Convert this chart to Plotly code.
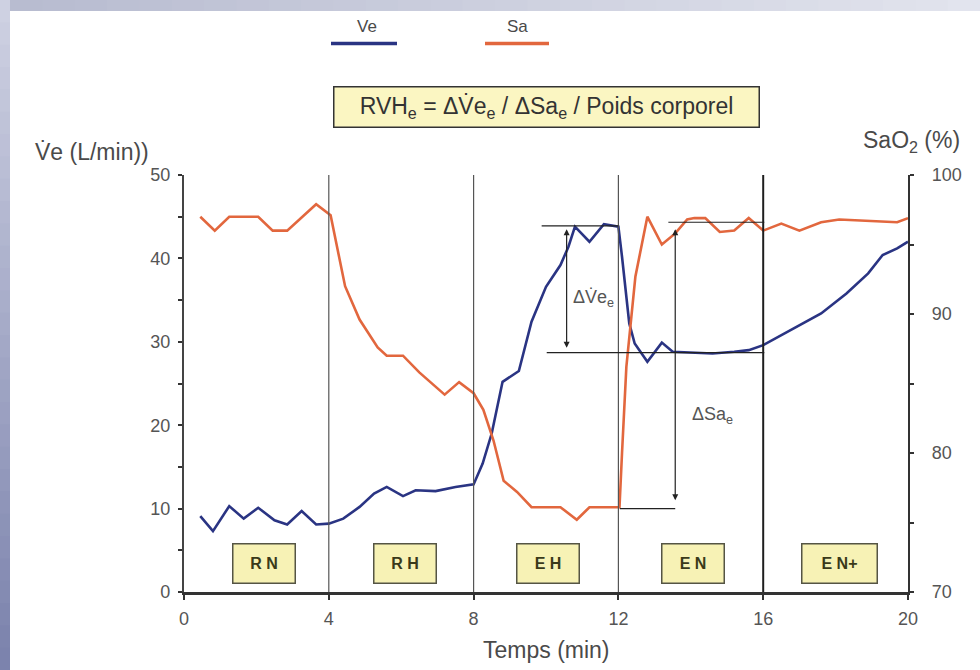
import plotly.graph_objects as go

# ---------------- data ----------------
ve_time = [0.45, 0.8, 1.25, 1.65, 2.05, 2.5, 2.85, 3.25, 3.65, 4.0, 4.4, 4.85, 5.25, 5.6,
           6.05, 6.4, 6.95, 7.5, 8.0, 8.25, 8.5, 8.8, 9.25, 9.6, 10.0, 10.4, 10.62, 10.8,
           11.2, 11.6, 12.0, 12.1, 12.3, 12.45, 12.8, 13.2, 13.5, 14.1, 14.6, 15.2, 15.6,
           16.0, 16.6, 17.6, 18.3, 18.9, 19.3, 19.7, 20.0]
ve_values = [9.1, 7.3, 10.3, 8.8, 10.1, 8.6, 8.1, 9.7, 8.1, 8.2, 8.8, 10.2, 11.8, 12.6,
             11.5, 12.2, 12.1, 12.6, 12.9, 15.4, 19.0, 25.2, 26.5, 32.4, 36.6, 39.2, 41.4, 43.8,
             42.0, 44.1, 43.8, 40.2, 32.2, 29.8, 27.6, 29.9, 28.8, 28.7, 28.6, 28.8, 29.0,
             29.6, 31.0, 33.4, 35.8, 38.2, 40.4, 41.2, 42.0]

sa_time = [0.45, 0.85, 1.25, 2.05, 2.45, 2.85, 3.65, 4.05, 4.45, 4.85, 5.35, 5.6, 6.05,
           6.5, 7.2, 7.6, 8.0, 8.27, 8.55, 8.83, 9.2, 9.6, 10.4, 10.85, 11.2, 12.03, 12.1,
           12.22, 12.47, 12.8, 13.2, 13.57, 13.9, 14.1, 14.4, 14.8, 15.2, 15.6, 16.0, 16.5,
           17.0, 17.6, 18.1, 19.0, 19.7, 20.0]
sa_values = [97.0, 96.0, 97.0, 97.0, 96.0, 96.0, 97.9, 97.1, 92.0, 89.6, 87.6, 87.0, 87.0,
             85.8, 84.2, 85.1, 84.3, 83.1, 80.9, 78.0, 77.2, 76.1, 76.1, 75.2, 76.1, 76.1, 80.0,
             86.2, 92.7, 97.0, 95.0, 95.8, 96.8, 96.9, 96.9, 95.9, 96.0, 96.9, 96.0, 96.5,
             96.0, 96.6, 96.8, 96.7, 96.6, 96.9]

phase_bounds = [4, 8, 12, 16]
phase_labels = ["R N", "R H", "E H", "E N", "E N+"]
phase_label_x = [2.2, 6.1, 10.05, 14.05, 18.1]

x_ticks = [0, 4, 8, 12, 16, 20]
ve_ticks = [0, 10, 20, 30, 40, 50]
sa_ticks = [70, 80, 90, 100]

# delta annotation levels
ve_high, ve_low = 43.9, 28.7
ve_arrow_t = 10.57
ve_high_span = [9.88, 12.0]
ve_low_span = [10.02, 16.03]
sa_high, sa_low = 96.6, 76.0
sa_arrow_t = 13.57
sa_high_span = [13.38, 16.03]
sa_low_span = [12.04, 13.57]

BLUE = "#2a3483"
RED = "#e2673e"
FONT = "Liberation Sans, Arial, sans-serif"
TXT = "#4a4a4a"

# ---------------- geometry helpers (pixel -> paper) ----------------
W, H = 980, 670
L, R, T, B = 184, 72, 175, 78
PW, PH = W - L - R, H - T - B


def px(x):
    return (x - L) / PW


def py(y):
    return (H - B - y) / PH


fig = go.Figure()
fig.add_trace(go.Scatter(x=ve_time, y=ve_values, mode="lines", name="Ve",
                         line=dict(color=BLUE, width=2.6), yaxis="y"))
fig.add_trace(go.Scatter(x=sa_time, y=sa_values, mode="lines", name="Sa",
                         line=dict(color=RED, width=2.6), yaxis="y2"))

shapes = []
# background frame gradient (left band + top band)
n = 30
c_top = (206, 209, 226)
c_bot = (124, 131, 173)
for i in range(n):
    f = i / (n - 1)
    c = tuple(int(c_top[k] + (c_bot[k] - c_top[k]) * f) for k in range(3))
    y0 = H * i / n
    y1 = H * (i + 1) / n + 1
    shapes.append(dict(type="rect", xref="paper", yref="paper", x0=px(0), x1=px(10),
                       y0=py(y1), y1=py(y0), fillcolor="rgb(%d,%d,%d)" % c,
                       line=dict(width=0), layer="below"))
t_left = (184, 188, 208)
t_right = (226, 228, 238)
for i in range(n):
    f = i / (n - 1)
    c = tuple(int(t_left[k] + (t_right[k] - t_left[k]) * f) for k in range(3))
    x0 = 10 + (W - 10) * i / n
    x1 = 10 + (W - 10) * (i + 1) / n + 1
    shapes.append(dict(type="rect", xref="paper", yref="paper", x0=px(x0), x1=px(x1),
                       y0=py(11), y1=py(0), fillcolor="rgb(%d,%d,%d)" % c,
                       line=dict(width=0), layer="below"))

# phase separators
for b in phase_bounds:
    strong = b == 16
    shapes.append(dict(type="line", xref="x", yref="paper", x0=b, x1=b, y0=0, y1=1,
                       line=dict(color="#1e1e1e" if strong else "#555555",
                                 width=2 if strong else 1.2)))

# delta guide lines
shapes.append(dict(type="line", xref="x", yref="y", x0=ve_high_span[0], x1=ve_high_span[1],
                   y0=ve_high, y1=ve_high, line=dict(color="#222", width=1.2)))
shapes.append(dict(type="line", xref="x", yref="y", x0=ve_low_span[0], x1=ve_low_span[1],
                   y0=ve_low, y1=ve_low, line=dict(color="#222", width=1.2)))
shapes.append(dict(type="line", xref="x", yref="y2", x0=sa_high_span[0], x1=sa_high_span[1],
                   y0=sa_high, y1=sa_high, line=dict(color="#222", width=1.2)))
shapes.append(dict(type="line", xref="x", yref="y2", x0=sa_low_span[0], x1=sa_low_span[1],
                   y0=sa_low, y1=sa_low, line=dict(color="#222", width=1.2)))

# legend lines
shapes.append(dict(type="line", xref="paper", yref="paper", x0=px(331), x1=px(397),
                   y0=py(43.5), y1=py(43.5), line=dict(color=BLUE, width=3.5)))
shapes.append(dict(type="line", xref="paper", yref="paper", x0=px(485), x1=px(549),
                   y0=py(43.5), y1=py(43.5), line=dict(color=RED, width=3.5)))

annotations = []


def txt(x, y, text, size, color=TXT, xanchor="center", **kw):
    d = dict(x=x, y=y, xref="paper", yref="paper", text=text, showarrow=False,
             xanchor=xanchor, yanchor="middle",
             font=dict(family=FONT, size=size, color=color))
    d.update(kw)
    return d


# double arrows
annotations.append(dict(x=ve_arrow_t, y=ve_high - 0.4, ax=ve_arrow_t, ay=ve_low + 0.4,
                        xref="x", yref="y", axref="x", ayref="y", text="", showarrow=True,
                        arrowhead=2, arrowside="end+start", arrowsize=1, arrowwidth=1.2,
                        arrowcolor="#222"))
annotations.append(dict(x=sa_arrow_t, y=sa_high - 0.5, ax=sa_arrow_t, ay=sa_low + 0.5,
                        xref="x", yref="y2", axref="x", ayref="y2", text="", showarrow=True,
                        arrowhead=2, arrowside="end+start", arrowsize=1, arrowwidth=1.2,
                        arrowcolor="#222"))
annotations.append(dict(x=11.3, y=35.2, xref="x", yref="y", text="ΔV̇e<sub>e</sub>",
                        showarrow=False, xanchor="center", yanchor="middle",
                        font=dict(family=FONT, size=18, color="#555")))
annotations.append(dict(x=14.6, y=82.7, xref="x", yref="y2", text="ΔSa<sub>e</sub>",
                        showarrow=False, xanchor="center", yanchor="middle",
                        font=dict(family=FONT, size=18, color="#555")))

# phase boxes
for lab, xc in zip(phase_labels, phase_label_x):
    annotations.append(dict(x=xc, y=3.45, xref="x", yref="y",
                            text="<b>%s</b>" % lab, showarrow=False,
                            xanchor="center", yanchor="middle",
                            font=dict(family=FONT, size=16, color="#3a3a1a"),
                            bgcolor="#f7f2b5", bordercolor="#555544", borderwidth=1.5,
                            width=(68 if lab.endswith("+") else 55), height=32, borderpad=3))

# formula box
annotations.append(txt(px(546), py(107),
                       "RVH<sub>e</sub> = ΔV̇e<sub>e</sub> / ΔSa<sub>e</sub> / Poids corporel",
                       23, color="#333", bgcolor="#fbf6c2", bordercolor="#333",
                       borderwidth=1.5, width=420, height=35, borderpad=2))

# legend texts
annotations.append(txt(px(367), py(26), "Ve", 17))
annotations.append(txt(px(517), py(26), "Sa", 17))

# axis titles
annotations.append(txt(px(33), py(152), "V̇e (L/min))", 23, xanchor="left"))
annotations.append(txt(px(911), py(141), "SaO<sub>2</sub> (%)", 23))
annotations.append(txt(px(546), py(650), "Temps (min)", 23))

tickfont = dict(family=FONT, size=18, color="#555")
fig.update_layout(
    width=W, height=H,
    margin=dict(l=L, r=R, t=T, b=B),
    paper_bgcolor="white", plot_bgcolor="white",
    showlegend=False,
    shapes=shapes, annotations=annotations,
    xaxis=dict(range=[0, 20], tickvals=x_ticks, ticks="outside", ticklen=5, tickwidth=1.5,
               tickcolor="#333", showline=True, linecolor="#333", linewidth=2.5,
               showgrid=False, zeroline=False, tickfont=tickfont, ticklabelstandoff=4),
    yaxis=dict(range=[0, 50], tickvals=ve_ticks, ticks="outside", ticklen=4, tickwidth=1.5,
               tickcolor="#333", showline=True, linecolor="#444", linewidth=2.2,
               showgrid=False, zeroline=False, tickfont=tickfont, ticklabelstandoff=4,
               minor=dict(dtick=5, tick0=0, ticks="outside", ticklen=4, tickcolor="#333",
                          showgrid=False)),
    yaxis2=dict(range=[70, 100], tickvals=sa_ticks, overlaying="y", side="right",
                ticks="outside", ticklen=4, tickwidth=1.5, tickcolor="#333", showline=True,
                linecolor="#333", linewidth=2.2, showgrid=False, zeroline=False,
                tickfont=tickfont, ticklabelstandoff=14,
                minor=dict(dtick=5, tick0=70, ticks="outside", ticklen=4, tickcolor="#333",
                           showgrid=False)),
)

fig.write_html("out.html",
               config={"displayModeBar": False},
               post_script="document.body.style.margin='0px';"
                           "document.body.style.overflow='hidden';")
